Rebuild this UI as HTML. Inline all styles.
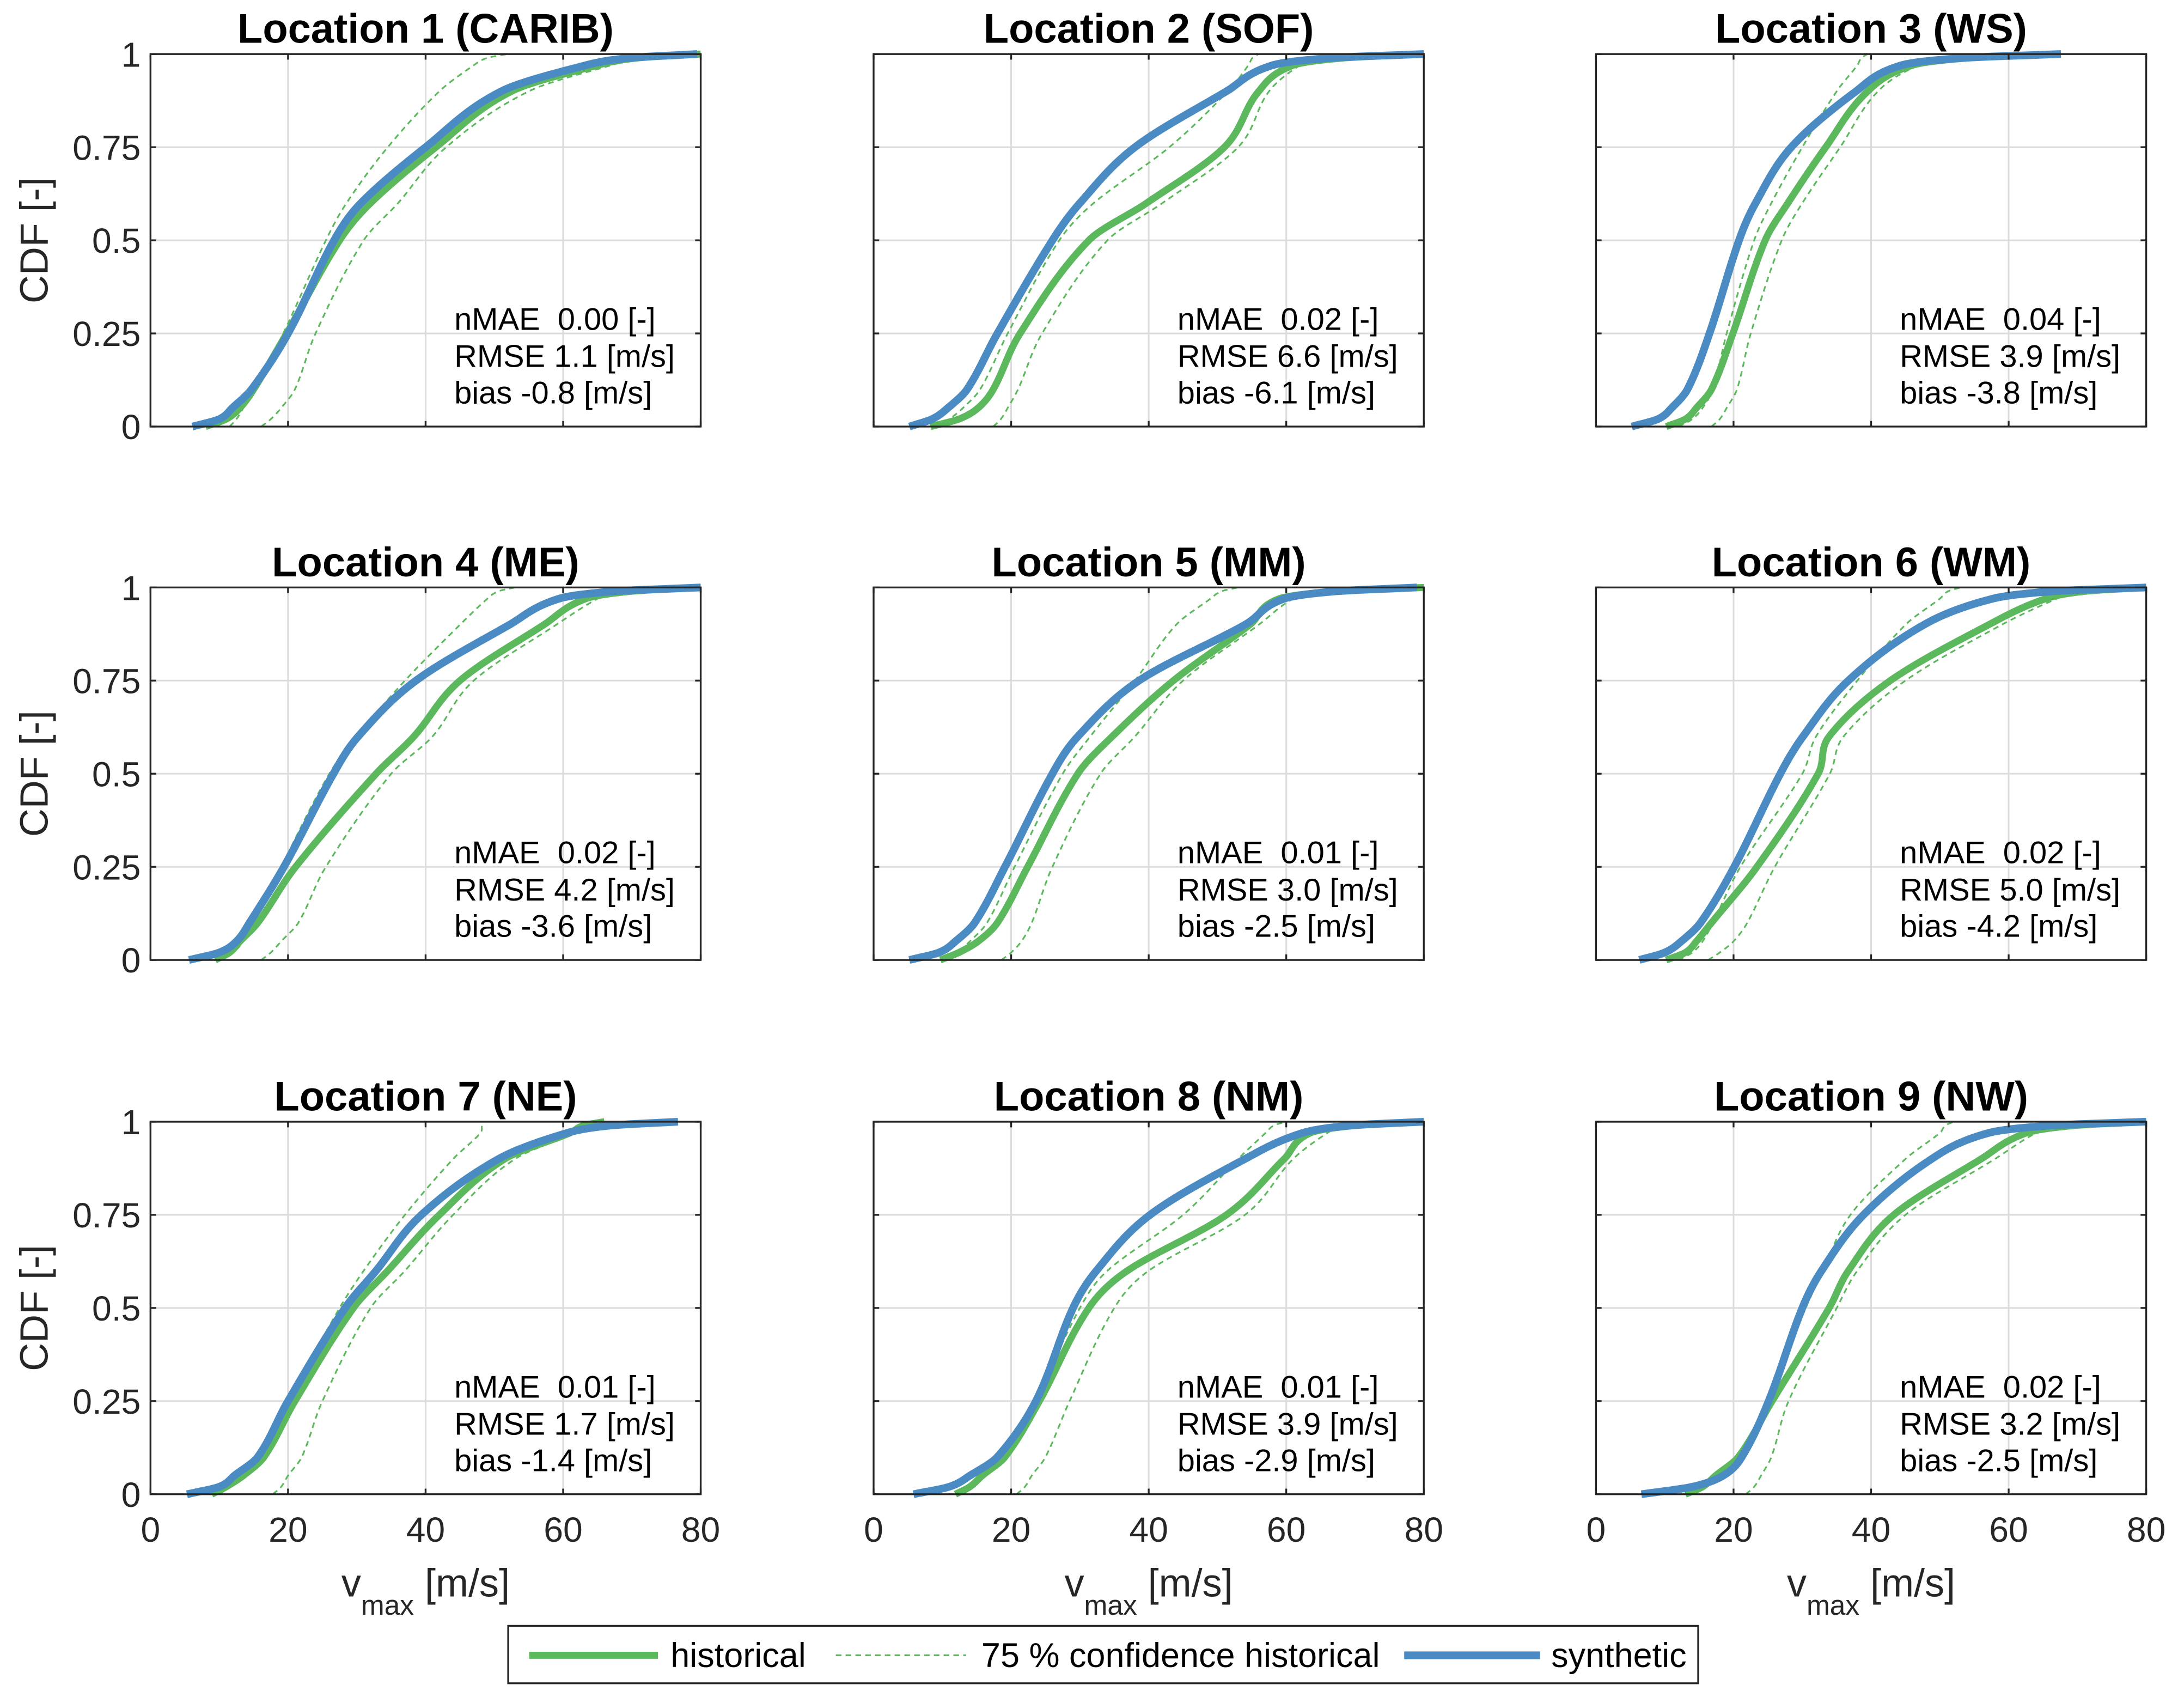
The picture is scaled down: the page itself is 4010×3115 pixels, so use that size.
<!DOCTYPE html>
<html><head><meta charset="utf-8">
<style>
html,body{margin:0;padding:0;background:#fff;}
svg{display:block;}
text{font-family:"Liberation Sans",Arial,sans-serif;}
</style></head>
<body>
<svg id="fig" xmlns="http://www.w3.org/2000/svg" width="4010" height="3115" viewBox="0 0 1560 1211.8" preserveAspectRatio="none"></svg>
<script>
// ---- data ----
const probLevels = [0,0.02,0.05,0.1,0.25,0.5,0.6,0.75,0.9,0.97,0.99,1];
const panelTitles = ["Location 1 (CARIB)","Location 2 (SOF)","Location 3 (WS)","Location 4 (ME)","Location 5 (MM)","Location 6 (WM)","Location 7 (NE)","Location 8 (NM)","Location 9 (NW)"];
const nmaeValues = ["0.00","0.02","0.04","0.02","0.01","0.02","0.01","0.01","0.02"];
const rmseValues = ["1.1","6.6","3.9","4.2","3.0","5.0","1.7","3.9","3.2"];
const biasValues = ["-0.8","-6.1","-3.8","-3.6","-2.5","-4.2","-1.4","-2.9","-2.5"];
// quantiles (v_max in m/s) at probLevels
const synthetic = [
 [6.1,10,11.9,14.7,20,26.7,30.6,40,51,63.3,69.8,79.5],
 [5.2,8.5,10.8,13.6,18,26,30,38,51.3,58,66.8,80],
 [5.2,9,11,13.3,16.5,20.8,23.2,28.4,37.8,44.4,53.7,67.6],
 [5.6,10,12.5,14.4,19.4,26.6,30.2,38.6,52.2,59.4,67.6,80],
 [5.2,9.5,11.9,14.7,19.1,26,29.7,38.6,54,59.7,67.4,79],
 [6.3,10,12.4,15.2,20.1,26.8,30.1,36.7,47.7,57.7,66.6,80],
 [5.3,10,12.2,15.6,20,28.3,32.8,39.4,50.6,60.6,67,76.7],
 [5.8,11,14,18,23.6,29,32.4,40.2,54,62.4,69.4,80],
 [6.6,14,18.5,21.2,25.1,30,32.8,38.9,48.8,57.1,66.3,80]
];
const historical = [
 [8,11,13,15,19.8,27.5,32,41.5,52.5,65,71,80],
 [8.3,12.4,15.2,17.4,21.3,31.3,39.7,51,56,61,68.6,80],
 [10.2,13,14.6,16.8,19.9,24.6,27.9,33.4,39.5,46,54.4,67],
 [9.4,11.5,13,15.6,21.1,32.8,38.3,45,57.2,63.3,70,80],
 [9.7,12.4,15.2,18,22.4,29.7,34.7,43.6,54.7,59,67.4,80],
 [10.2,13,14.6,16.8,23.4,32.3,33.9,42.8,57.1,65.4,71.2,80],
 [8.9,11,13.5,16.5,21,29.5,34.5,42,51.5,61,63,66],
 [11.9,14,15.8,19.1,24.1,31.3,36.9,51.3,59.7,63.5,70.1,80],
 [13,15.5,17.4,20.7,25.6,33.9,36.7,43.3,56,62.6,69.6,80]
];
const confLower = [
 [11.5,12.5,13.5,15,19.3,25.5,28.5,34.5,42,47,49,52],
 [9,11,13,15.5,19.5,27,32,43,51.5,54.5,55.1,56],
 [12,14,15.5,17,19,23,25.5,30,35,38,38.6,39.5],
 [10,12,13.5,15,19,26,30,37,45,49,50.6,53],
 [10,12,14,16.5,20.5,27.5,31.5,38,44,49,50.6,53],
 [12,14,15.5,17,21,30,32,38,45,50,51.2,53],
 [10,11.5,13,15.5,20,27.5,31,37,44,48,48.2,48.5],
 [12,14,16,19,23.5,30,34,45,53,57,58.2,60],
 [14,16,18,21,25,30.5,33,37,45,50,50.8,52]
];
const confUpper = [
 [16.1,17.5,19,21,24,31,36,43,55,67,72.2,80],
 [17.4,18.5,19.5,21,24.5,34,42,53,57.5,62,65.2,70],
 [16.8,18,19,20.5,22.5,27,30,35.5,41,47,53,62],
 [16.1,17.5,19,21.5,25.5,35,41,47,59,65,67.8,72],
 [18.6,20,21.5,23,26,33,38,45,56,61,64.6,70],
 [16.3,18,20,22,26,34,36,45,59,67,70.2,75],
 [17.8,19,20,22,25,32,37,44,53,62,65.2,70],
 [20.8,22,23,25,28.5,35,40,54,61,66,68.4,72],
 [21.8,23,24,25.5,28,35,38,45,58,64,67.2,72]
];
const xTicks = [0,20,40,60,80];
const yTicks = [0,0.25,0.5,0.75,1];
const yTickLabels = ["0","0.25","0.5","0.75","1"];

// ---- layout ----
const NS = "http://www.w3.org/2000/svg";
const svg = document.getElementById('fig');
const colL = [107.5,624,1140], axW = 393;
const rowT = [38.6,419.5,801], axH = 266;
const GREEN = "#5cb85c", BLUE = "#4a8bc4", DARK = "#262626";

function mk(tag, attrs, parent){
  const e = document.createElementNS(NS, tag);
  for (const k in attrs) e.setAttribute(k, attrs[k]);
  (parent||svg).appendChild(e);
  return e;
}
function smoothInterp(xs, ys){
  const n = xs.length, m = [];
  for (let i=0;i<n;i++){
    let s;
    if (i===0) s=(ys[1]-ys[0])/(xs[1]-xs[0]);
    else if (i===n-1) s=(ys[n-1]-ys[n-2])/(xs[n-1]-xs[n-2]);
    else s=(ys[i+1]-ys[i-1])/(xs[i+1]-xs[i-1]);
    m.push(Math.max(0,s));
  }
  return function(x){
    let i=0; while(i<n-2 && x>xs[i+1]) i++;
    const h=xs[i+1]-xs[i], t=(x-xs[i])/h, t2=t*t, t3=t2*t;
    let v=(2*t3-3*t2+1)*ys[i]+(t3-2*t2+t)*h*m[i]+(-2*t3+3*t2)*ys[i+1]+(t3-t2)*h*m[i+1];
    return Math.min(Math.max(v,Math.min(ys[i],ys[i+1])),Math.max(ys[i],ys[i+1]));
  };
}

for (let k=0;k<9;k++){
  const r = Math.floor(k/3), c = k%3;
  const L = colL[c], T = rowT[r], B = T+axH, R = L+axW;
  const sx = v => L + v/80*axW;
  const sy = p => B - p*axH;
  const g = mk('g', {});
  
  

  for (const v of xTicks.slice(1,-1)){
    const gl = mk('line',{x1:sx(v),x2:sx(v),y1:T,y2:B,stroke:"#dcdcdc","stroke-width":1.2},g);
    
    
  }
  for (const p of yTicks.slice(1,-1)){
    const gl = mk('line',{x1:L,x2:R,y1:sy(p),y2:sy(p),stroke:"#dcdcdc","stroke-width":1.2},g);
    
    
  }

  const clip = mk('clipPath',{id:'clip'+k},g);
  mk('rect',{x:L-6,y:T-4,width:axW+6,height:axH+10},clip);
  const sg = mk('g',{'clip-path':'url(#clip'+k+')'},g);
  
  
  const draw = (q,name,color,w,dash)=>{
    const f = smoothInterp(probLevels, q);
    let pts=[];
    for (let i=0;i<=300;i++){const p=i/300; pts.push(sx(f(p)).toFixed(2)+","+sy(p).toFixed(2));}
    const pl = mk('polyline',{points:pts.join(" "),fill:"none",stroke:color,"stroke-width":w,"stroke-linejoin":"round","stroke-dasharray":dash||"none"},sg);
    
    
  };
  draw(confLower[k],'confidence-lower-curve',GREEN,1.2,"4 3");
  draw(confUpper[k],'confidence-upper-curve',GREEN,1.2,"4 3");
  draw(historical[k],'historical-curve',GREEN,5,null);
  draw(synthetic[k],'synthetic-curve',BLUE,5.5,null);

  const box = mk('rect',{x:L,y:T,width:axW,height:axH,fill:"none",stroke:DARK,"stroke-width":1.3},g);
  
  
  for (const v of xTicks){
    mk('line',{x1:sx(v),x2:sx(v),y1:B,y2:B-4,stroke:DARK,"stroke-width":1.3},g);
    mk('line',{x1:sx(v),x2:sx(v),y1:T,y2:T+4,stroke:DARK,"stroke-width":1.3},g);
  }
  for (const p of yTicks){
    mk('line',{x1:L,x2:L+4,y1:sy(p),y2:sy(p),stroke:DARK,"stroke-width":1.3},g);
    mk('line',{x1:R,x2:R-4,y1:sy(p),y2:sy(p),stroke:DARK,"stroke-width":1.3},g);
  }
  const tt = mk('text',{x:L+axW/2,y:T-8,"text-anchor":"middle","font-size":29.5,"font-weight":"bold",fill:"#000"},g);
  tt.textContent = panelTitles[k];
  
  
  const lines = ["nMAE  "+nmaeValues[k]+" [-]","RMSE "+rmseValues[k]+" [m/s]","bias "+biasValues[k]+" [m/s]"];
  const offs = [197,223.5,249.5];
  lines.forEach((s,i)=>{
    const t = mk('text',{x:L+217,y:T+offs[i],"font-size":22.5,fill:"#000","xml:space":"preserve",style:"white-space:pre"},g);
    t.textContent = s;
    
    
  });
  if (c===0){
    yTicks.forEach((p,i)=>{
      const t = mk('text',{x:L-7,y:sy(p)+9,"text-anchor":"end","font-size":25,fill:"#262626"},g);
      t.textContent = yTickLabels[i];
      
      
    });
    const yl = mk('text',{x:0,y:0,"text-anchor":"middle","font-size":28,fill:"#262626",transform:"translate(34,"+(T+axH/2)+") rotate(-90)"},g);
    yl.textContent = "CDF [-]";
    
    
  }
  if (r===2){
    xTicks.forEach(v=>{
      const t = mk('text',{x:sx(v),y:B+34,"text-anchor":"middle","font-size":25,fill:"#262626"},g);
      t.textContent = String(v);
      
      
    });
    const xl = mk('text',{x:L+axW/2,y:1140,"text-anchor":"middle","font-size":28,fill:"#262626"},g);
    
    
    const t1 = mk('tspan',{},xl); t1.textContent="v";
    const t2 = mk('tspan',{"font-size":20,dy:13},xl); t2.textContent="max";
    const t3 = mk('tspan',{dy:-13},xl); t3.textContent=" [m/s]";
  }
}

const lg = mk('g',{});


mk('rect',{x:363,y:1161,width:850,height:41,fill:"#fff",stroke:DARK,"stroke-width":1.3},lg);
const legendItems = [
  {x1:378,x2:470,tx:479,label:"historical",color:GREEN,w:5,dash:"none",name:"legend-entry-historical"},
  {x1:597,x2:690,tx:701,label:"75 % confidence historical",color:GREEN,w:1.3,dash:"4 3",name:"legend-entry-confidence"},
  {x1:1003,x2:1100,tx:1108,label:"synthetic",color:BLUE,w:5.5,dash:"none",name:"legend-entry-synthetic"}
];
legendItems.forEach(it=>{
  const eg = mk('g',{},lg);
  
  
  mk('line',{x1:it.x1,x2:it.x2,y1:1182,y2:1182,stroke:it.color,"stroke-width":it.w,"stroke-dasharray":it.dash},eg);
  const t = mk('text',{x:it.tx,y:1190.5,"font-size":24.5,fill:"#000"},eg);
  t.textContent = it.label;
});
</script>
</body></html>
